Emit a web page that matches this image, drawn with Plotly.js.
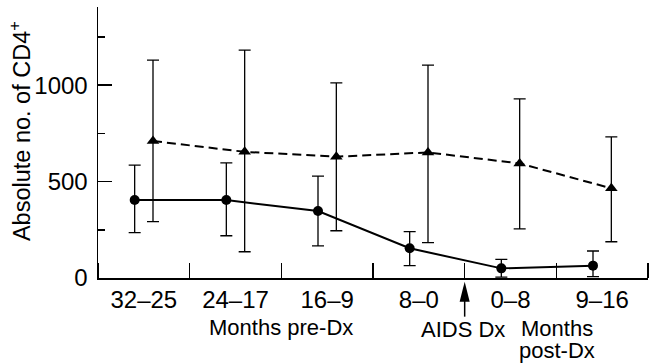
<!DOCTYPE html>
<html>
<head>
<meta charset="utf-8">
<script src="https://cdn.plot.ly/plotly-3.0.1.min.js"></script>
<style>html,body{margin:0;padding:0;background:#fff;}#chart{width:655px;height:363px;}</style>
</head>
<body>
<div id="chart"></div>
<script>
// Data
const categories = ['32–25', '24–17', '16–9', '8–0', '0–8', '9–16'];
const circleMean  = [404, 404, 347, 154, 50, 64];
const circleUpper = [585, 597, 528, 240, 97, 140];
const circleLower = [235, 219, 167, 64, 5, 7];
const triMean  = [710, 654, 629, 651, 594, 465];
const triUpper = [1130, 1181, 1012, 1104, 929, 732];
const triLower = [292, 136, 245, 183, 255, 188];
const yTickVals = [0, 500, 1000];
const yMinorVals = [250, 750, 1250];

// style / position constants
const OFFSET = 0.1;
const FONT = 'Liberation Sans, Arial, Helvetica, sans-serif';
const idx = categories.map((c, i) => i);
const PLOT_H = 271.3;
const py = px => -(px - 278) / PLOT_H;

const triTrace = {
  x: idx.map(i => i + OFFSET), y: triMean, type: 'scatter', mode: 'lines+markers',
  line: {color: '#000', width: 2, dash: '9px,5px'},
  marker: {symbol: 'triangle-up', size: 11, color: '#000'},
  error_y: {type: 'data', symmetric: false,
    array: triUpper.map((u, i) => u - triMean[i]),
    arrayminus: triMean.map((m, i) => m - triLower[i]),
    color: '#000', thickness: 1.3, width: 6},
  cliponaxis: false, showlegend: false, hoverinfo: 'skip'
};
const circTrace = {
  x: idx.map(i => i - OFFSET), y: circleMean, type: 'scatter', mode: 'lines+markers',
  line: {color: '#000', width: 2},
  marker: {symbol: 'circle', size: 10, color: '#000'},
  error_y: {type: 'data', symmetric: false,
    array: circleUpper.map((u, i) => u - circleMean[i]),
    arrayminus: circleMean.map((m, i) => m - circleLower[i]),
    color: '#000', thickness: 1.3, width: 6},
  cliponaxis: false, showlegend: false, hoverinfo: 'skip'
};

const annFont = {size: 22, family: FONT, color: '#000'};
const layout = {
  width: 655, height: 363,
  margin: {l: 98, r: 7, t: 7, b: 85},
  paper_bgcolor: '#fff', plot_bgcolor: '#fff',
  font: {family: FONT, color: '#000', size: 20},
  xaxis: {
    range: [-0.5, 5.5], showline: true, linewidth: 1.5, linecolor: '#000',
    showgrid: false, zeroline: false,
    tickmode: 'array', tickvals: idx, ticktext: categories, ticks: '',
    tickfont: {size: 24, family: FONT, color: '#000'},
    minor: {tickmode: 'linear', tick0: 0.5, dtick: 1, ticks: 'inside', ticklen: 15, tickwidth: 1.5, tickcolor: '#000', showgrid: false}
  },
  yaxis: {
    range: [0, 1405], showline: true, linewidth: 1.5, linecolor: '#000',
    showgrid: false, zeroline: false,
    tickmode: 'array', tickvals: yTickVals, ticks: 'inside', ticklen: 14, tickwidth: 1.5, tickcolor: '#000',
    tickfont: {size: 24, family: FONT, color: '#000'}, ticklabelstandoff: 4,
    minor: {tickmode: 'array', tickvals: yMinorVals, ticks: 'inside', ticklen: 7, tickwidth: 1.5, tickcolor: '#000', showgrid: false}
  },
  annotations: [
    {text: 'Absolute no. of CD4<sup>+</sup>', textangle: -90, x: -0.142, xref: 'paper', y: py(131), yref: 'paper', showarrow: false, xanchor: 'center', yanchor: 'middle', font: {size: 23.5, family: FONT, color: '#000'}},
    {text: 'Months pre-Dx', x: 1.5, xref: 'x', y: py(328), yref: 'paper', showarrow: false, xanchor: 'center', yanchor: 'middle', font: annFont},
    {text: 'AIDS Dx', x: 3.48, xref: 'x', y: py(330), yref: 'paper', showarrow: false, xanchor: 'center', yanchor: 'middle', font: annFont},
    {text: 'Months', x: 4.51, xref: 'x', y: py(329), yref: 'paper', showarrow: false, xanchor: 'center', yanchor: 'middle', font: annFont},
    {text: 'post-Dx', x: 4.51, xref: 'x', y: py(351), yref: 'paper', showarrow: false, xanchor: 'center', yanchor: 'middle', font: annFont}
  ],
  shapes: [
    {type: 'path', xref: 'x', yref: 'paper', path: 'M 3.5 ' + py(281.7) + ' L 3.555 ' + py(301.7) + ' L 3.445 ' + py(301.7) + ' Z', fillcolor: '#000', line: {width: 0}},
    {type: 'line', xref: 'x', yref: 'paper', x0: 3.5, x1: 3.5, y0: py(301), y1: py(316.7), line: {color: '#000', width: 1.5}}
  ]
};

Plotly.newPlot('chart', [triTrace, circTrace], layout, {staticPlot: true, displayModeBar: false});
</script>
</body>
</html>
